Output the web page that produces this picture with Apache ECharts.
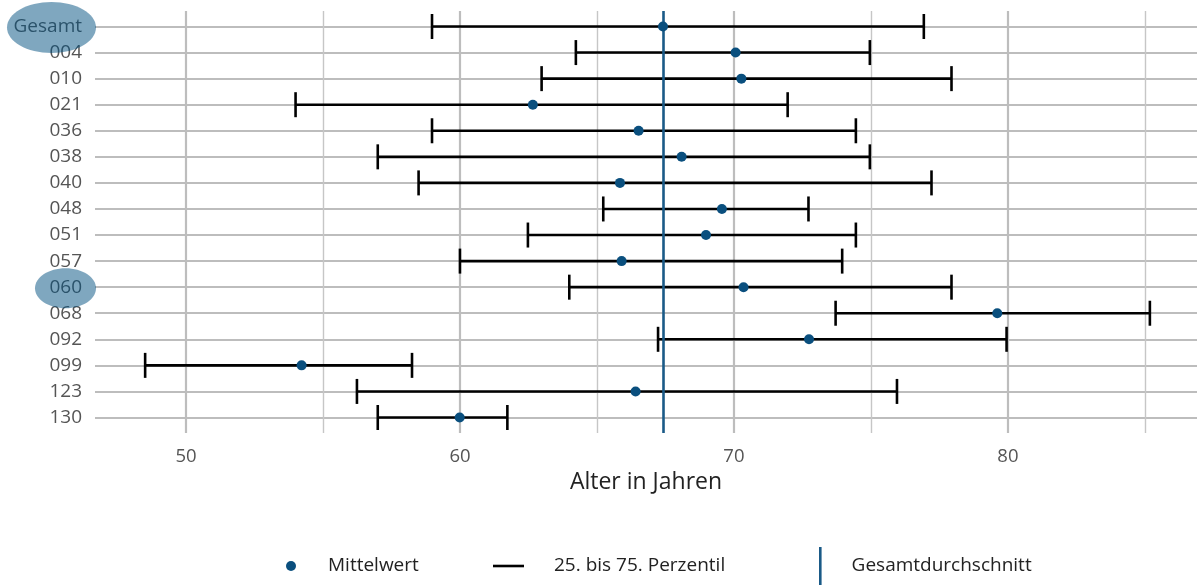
<!DOCTYPE html>
<html><head><meta charset="utf-8">
<script src="https://cdn.jsdelivr.net/npm/echarts@6/dist/echarts.min.js"></script>
<style>html,body{margin:0;padding:0;background:#fff}#c{width:1197px;height:586px}</style>
</head><body><div id="c"></div>
<script>
// ---- data ----
const categories = ['Gesamt','004','010','021','036','038','040','048','051','057','060','068','092','099','123','130'];
const meanValues = [67.41,70.06,70.27,62.66,66.52,68.09,65.84,69.56,68.98,65.90,70.35,79.61,72.74,54.22,66.41,59.99];
const p25Values  = [58.98,64.23,62.98,54.00,58.98,57.00,58.49,65.23,62.48,60.00,63.99,73.71,67.23,48.51,56.24,57.00];
const p75Values  = [76.93,74.96,77.94,71.96,74.45,74.96,77.21,72.72,74.45,73.95,77.94,85.18,79.95,58.25,75.95,61.73];
const overallMean = 67.41;
const xMin = 46.68, xMax = 86.9;
const xTickLabels = [50, 60, 70, 80];
const majorGridValues = [50, 60, 70, 80];
const minorGridValues = [55, 65, 75, 85];
const highlightedCategories = ['Gesamt', '060'];

// ---- style ----
const FONT = 'Open Sans';
const GRID_LEFT = 95;
const DOT_COLOR = '#0a4f7e';
const MEAN_LINE_COLOR = '#1a5a87';
const GRID_COLOR = '#bdbdbd';
const ellipseStyle = { 'Gesamt': { rx: 44.5, ry: 25.5 }, '060': { rx: 30.5, ry: 20 } };

const chart = echarts.init(document.getElementById('c'), null, { renderer: 'canvas' });

const gridMarkData = majorGridValues.map(v => ({ xAxis: v, lineStyle: { color: GRID_COLOR, width: 2.2, type: 'solid' } }))
  .concat(minorGridValues.map(v => ({ xAxis: v, lineStyle: { color: '#c6c6c6', width: 1.4, type: 'solid' } })));

const legendText = { fontSize: 19, color: '#222', lineHeight: 20, fontFamily: FONT };

const option = {
  animation: false,
  textStyle: { fontFamily: FONT },
  grid: [
    { left: GRID_LEFT, right: 0, top: 11, bottom: 153 },
    { left: GRID_LEFT, right: 0, top: 26.5, bottom: 168.5 }
  ],
  xAxis: [
    {
      gridIndex: 0, type: 'value', min: xMin, max: xMax,
      axisLine: { show: false }, axisTick: { show: false }, splitLine: { show: false },
      axisLabel: { customValues: xTickLabels, fontSize: 18.5, color: '#555', margin: 14, fontFamily: FONT },
      name: 'Alter in Jahren', nameLocation: 'middle', nameGap: 38,
      nameTextStyle: { fontSize: 23, color: '#222', fontFamily: FONT }
    },
    { gridIndex: 1, type: 'value', min: xMin, max: xMax, show: false }
  ],
  yAxis: [
    { gridIndex: 0, type: 'value', min: 0, max: 1, show: false },
    {
      gridIndex: 1, type: 'category', data: categories, inverse: true, boundaryGap: false,
      axisLine: { show: false }, axisTick: { show: false },
      axisLabel: { interval: 0, fontSize: 19, color: '#555', margin: 13, fontFamily: FONT },
      splitLine: { show: true, interval: 0, lineStyle: { color: GRID_COLOR, width: 2 } }
    }
  ],
  legend: [
    {
      left: 286, top: 556, padding: 0, itemWidth: 10, itemHeight: 10, selectedMode: false,
      textStyle: Object.assign({ padding: [0, 0, 0, 27] }, legendText),
      data: [{ name: 'Mittelwert', icon: 'circle', itemStyle: { color: DOT_COLOR } }]
    },
    {
      left: 493, top: 556, padding: 0, itemWidth: 31, itemHeight: 2.6, selectedMode: false,
      textStyle: Object.assign({ padding: [0, 0, 0, 25] }, legendText),
      data: [{ name: '25. bis 75. Perzentil', icon: 'rect', itemStyle: { color: '#000' } }]
    },
    {
      left: 819, top: 547, padding: 0, itemWidth: 2.6, itemHeight: 38, selectedMode: false,
      textStyle: Object.assign({ padding: [0, 0, 0, 25] }, legendText),
      data: [{ name: 'Gesamtdurchschnitt', icon: 'rect', itemStyle: { color: MEAN_LINE_COLOR } }]
    }
  ],
  series: [
    {
      name: 'grid-lines', type: 'line', xAxisIndex: 0, yAxisIndex: 0, data: [], silent: true, z: 1,
      markLine: { silent: true, symbol: 'none', label: { show: false }, z: 1, animation: false, data: gridMarkData }
    },
    {
      name: '25. bis 75. Perzentil', type: 'custom', xAxisIndex: 1, yAxisIndex: 1, z: 3, silent: true,
      itemStyle: { color: '#000' },
      encode: { x: [0, 1], y: 2 },
      data: categories.map((c, i) => [p25Values[i], p75Values[i], i]),
      renderItem: (params, api) => {
        const y = api.value(2);
        const a = api.coord([api.value(0), y]);
        const b = api.coord([api.value(1), y]);
        const h = 12.5;
        const st = { stroke: '#000', lineWidth: 2.6 };
        return {
          type: 'group', children: [
            { type: 'line', shape: { x1: a[0], y1: a[1], x2: b[0], y2: b[1] }, style: st },
            { type: 'line', shape: { x1: a[0], y1: a[1] - h, x2: a[0], y2: a[1] + h }, style: st },
            { type: 'line', shape: { x1: b[0], y1: b[1] - h, x2: b[0], y2: b[1] + h }, style: st }
          ]
        };
      }
    },
    {
      name: 'Gesamtdurchschnitt', type: 'line', xAxisIndex: 0, yAxisIndex: 0, data: [], z: 4,
      itemStyle: { color: MEAN_LINE_COLOR },
      markLine: {
        silent: true, symbol: 'none', label: { show: false }, z: 4, animation: false,
        lineStyle: { color: MEAN_LINE_COLOR, width: 2.6, type: 'solid' },
        data: [{ xAxis: overallMean }]
      }
    },
    {
      name: 'Mittelwert', type: 'scatter', xAxisIndex: 1, yAxisIndex: 1, z: 5, silent: true,
      symbol: 'circle', symbolSize: 10, itemStyle: { color: DOT_COLOR, opacity: 1 },
      data: categories.map((c, i) => [meanValues[i], c])
    }
  ]
};
chart.setOption(option);

const gfx = highlightedCategories.map(name => {
  const y = chart.convertToPixel({ yAxisIndex: 1 }, name);
  const s = ellipseStyle[name];
  return {
    type: 'ellipse', silent: true, z: 100,
    shape: { cx: GRID_LEFT - s.rx + 1, cy: y + 1, rx: s.rx, ry: s.ry },
    style: { fill: 'rgba(0,80,127,0.5)' }
  };
});
chart.setOption({ graphic: gfx });
</script>
</body></html>
